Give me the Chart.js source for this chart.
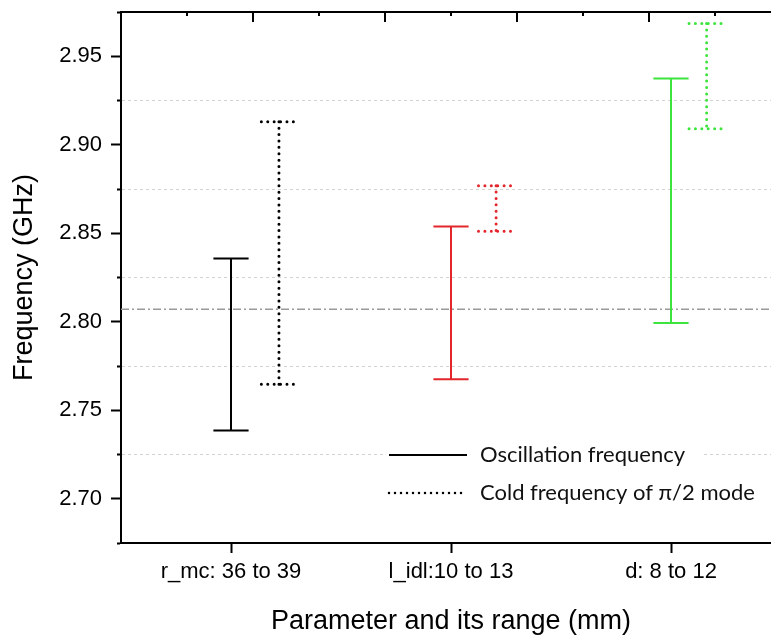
<!DOCTYPE html>
<html>
<head>
<meta charset="utf-8">
<title>Frequency ranges</title>
<script src="https://cdn.jsdelivr.net/npm/chart.js@4.4.1/dist/chart.umd.min.js"></script>
<style>
  html, body { margin: 0; padding: 0; background: #fff; overflow: hidden; }
  #wrap { width: 800px; height: 635px; }
</style>
</head>
<body>
<div id="wrap"><canvas id="chartFreq" width="800" height="635"></canvas></div>
<script>
// Parameters and measured ranges (GHz)
const categories = ["r_mc: 36 to 39", "l_idl:10 to 13", "d: 8 to 12"];
const seriesNames = ["Oscillation frequency", "Cold frequency of \u03c0/2 mode"];
const oscLow = [2.7385, 2.7675, 2.7993];
const oscHigh = [2.8357, 2.8538, 2.9374];
const coldLow = [2.7647, 2.8511, 2.9090];
const coldHigh = [2.9130, 2.8769, 2.9685];
const refFreq = 2.807;
const yTickValues = [2.675, 2.70, 2.725, 2.75, 2.775, 2.80, 2.825, 2.85, 2.875, 2.90, 2.925, 2.95, 2.975];
const topTickValues = [0.8, 1.1, 1.4, 1.7, 2.0, 2.3, 2.6, 2.9, 3.2];

// style
const groupColors = ["#000000", "#e3262b", "#3de43d"];
const coldShift = [0.218, 0.205, 0.162];
const capHalf = 0.08;
const AXIS_FONT = "'Liberation Sans', Arial, sans-serif";

const isMinor = v => Math.round(v * 1000) % 50 !== 0;

function errorBar(x, lo, hi, color, dotted) {
  return {
    data: [
      { x: x - capHalf, y: hi }, { x: x + capHalf, y: hi }, { x: x, y: null },
      { x: x, y: hi }, { x: x, y: lo }, { x: x, y: null },
      { x: x - capHalf, y: lo }, { x: x + capHalf, y: lo }
    ],
    borderColor: color,
    borderWidth: dotted ? 3 : 2,
    borderDash: dotted ? [0, 6.4] : [],
    borderCapStyle: dotted ? "round" : "butt",
    pointRadius: 0,
    spanGaps: false,
    tension: 0,
    fill: false
  };
}

const datasets = [];
categories.forEach((c, i) => {
  datasets.push(errorBar(i + 1, oscLow[i], oscHigh[i], groupColors[i], false));
  datasets.push(errorBar(i + 1 + coldShift[i], coldLow[i], coldHigh[i], groupColors[i], true));
});
// dash-dot reference line
datasets.push({
  data: [{ x: 0.5, y: refFreq }, { x: 3.5, y: refFreq }],
  borderColor: "#9a9a9a",
  borderWidth: 1.5,
  borderDash: [8, 3, 2, 3],
  pointRadius: 0,
  order: 10
});

// inward ticks on the top axis
const topTickMarks = {
  id: "topTickMarks",
  afterDraw(chart) {
    const ctx = chart.ctx;
    const sc = chart.scales.x2;
    const top = chart.chartArea.top;
    ctx.save();
    ctx.strokeStyle = "#000";
    ctx.lineWidth = 2;
    topTickValues.forEach((v, i) => {
      const px = Math.round(sc.getPixelForValue(v));
      ctx.beginPath();
      ctx.moveTo(px, top);
      ctx.lineTo(px, top + (i % 2 ? 10 : 4));
      ctx.stroke();
    });
    ctx.restore();
  }
};

// legend box inside the plot
const legendBox = {
  id: "legendBox",
  afterDatasetsDraw(chart) {
    const ctx = chart.ctx;
    const rows = [455, 493];
    ctx.save();
    ctx.fillStyle = "#fff";
    ctx.fillRect(385, 434, 317, 78);
    seriesNames.forEach((name, i) => {
      ctx.beginPath();
      ctx.strokeStyle = "#000";
      ctx.lineWidth = i ? 2.5 : 2;
      ctx.setLineDash(i ? [0, 6] : []);
      ctx.lineCap = i ? "round" : "butt";
      ctx.moveTo(389, rows[i]);
      ctx.lineTo(467, rows[i]);
      ctx.stroke();
      ctx.setLineDash([]);
      ctx.fillStyle = "#111";
      ctx.font = "22px Lato";
      ctx.textBaseline = "middle";
      ctx.fillText(name, 480, rows[i]);
    });
    ctx.restore();
  }
};

new Chart(document.getElementById("chartFreq"), {
  type: "line",
  data: { datasets: datasets },
  options: {
    responsive: false,
    animation: false,
    events: [],
    layout: { padding: { left: 0, top: 12, right: 19, bottom: 0 } },
    plugins: { legend: { display: false }, tooltip: { enabled: false } },
    scales: {
      x: {
        type: "linear",
        position: "bottom",
        min: 0.5,
        max: 3.5,
        afterBuildTicks: s => { s.ticks = categories.map((c, i) => ({ value: i + 1 })); },
        afterFit: s => { s.height = 92; s.paddingLeft = 0; s.paddingRight = 0; },
        ticks: {
          autoSkip: false,
          maxRotation: 0,
          padding: 6,
          color: "#000",
          font: { family: AXIS_FONT, size: 22 },
          callback: v => categories[Math.round(v) - 1]
        },
        grid: { drawOnChartArea: false, tickLength: 10, tickWidth: 2, tickColor: "#000" },
        border: { color: "#000", width: 2 },
        title: {
          display: true,
          text: "Parameter and its range (mm)",
          color: "#000",
          font: { family: AXIS_FONT, size: 27, lineHeight: 1 },
          padding: { top: 0, bottom: 0 }
        }
      },
      x2: {
        type: "linear",
        position: "top",
        min: 0.5,
        max: 3.5,
        afterFit: s => { s.height = 0; s.paddingLeft = 0; s.paddingRight = 0; },
        ticks: { display: false },
        grid: { drawOnChartArea: false, drawTicks: false },
        border: { color: "#000", width: 2 }
      },
      y: {
        type: "linear",
        position: "left",
        min: 2.675,
        max: 2.975,
        afterBuildTicks: s => { s.ticks = yTickValues.map(v => ({ value: v })); },
        afterFit: s => { s.width = 121; s.paddingTop = 0; s.paddingBottom = 0; },
        ticks: {
          autoSkip: false,
          padding: 9,
          color: "#000",
          font: { family: AXIS_FONT, size: 22 },
          callback: v => isMinor(v) ? "" : v.toFixed(2)
        },
        grid: {
          color: c => (c.tick && isMinor(c.tick.value)) ? "#d2d2d2" : "rgba(0,0,0,0)",
          lineWidth: 1,
          tickLength: 10,
          tickWidth: 2,
          tickColor: "#000",
          tickBorderDash: c => (c.tick && isMinor(c.tick.value)) ? [0, 6, 4, 100] : []
        },
        border: { color: "#000", width: 2, dash: [3, 3] },
        title: {
          display: true,
          text: "Frequency (GHz)",
          color: "#000",
          font: { family: AXIS_FONT, size: 27, lineHeight: 1 },
          padding: { top: 11, bottom: 0 }
        }
      }
    }
  },
  plugins: [topTickMarks, legendBox]
});
</script>
</body>
</html>
